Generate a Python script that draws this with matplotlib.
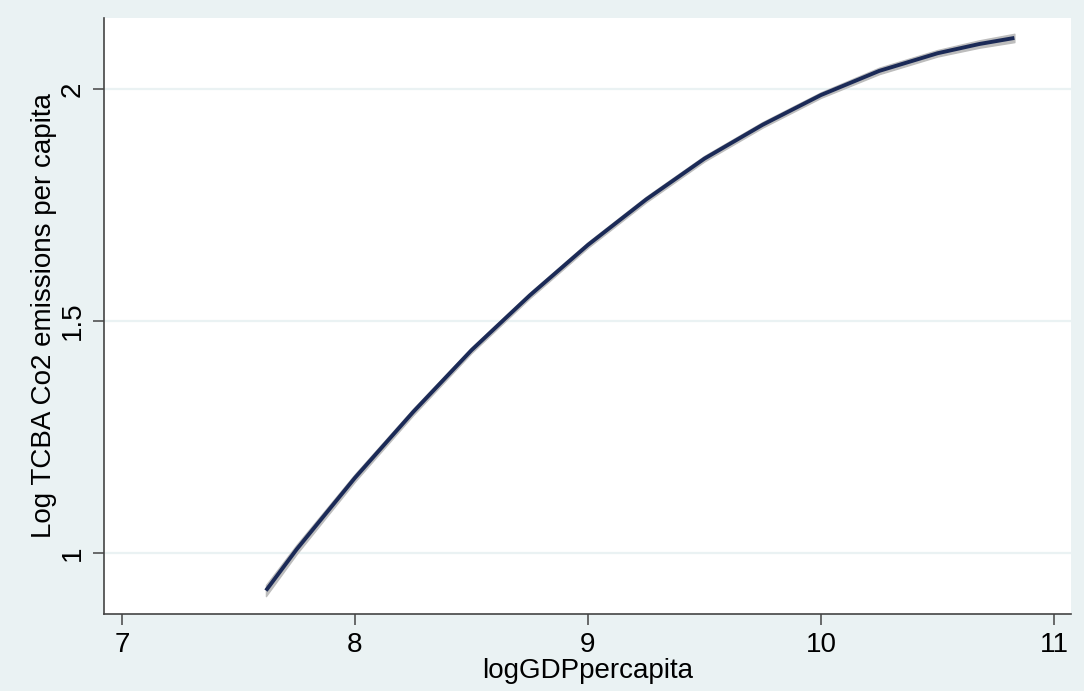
import matplotlib
matplotlib.use("Agg")
import matplotlib.pyplot as plt
import numpy as np

# Data (fitted curve with narrow confidence band)
x_vals = [7.618, 7.75, 8.0, 8.25, 8.5, 8.75, 9.0, 9.25, 9.5, 9.75, 10.0, 10.25, 10.5, 10.68, 10.83]
y_vals = [0.919, 1.008, 1.162, 1.304, 1.437, 1.555, 1.664, 1.762, 1.850, 1.923, 1.987, 2.039, 2.077, 2.097, 2.110]
ci_half = [0.012, 0.010, 0.008, 0.007, 0.006, 0.006, 0.006, 0.006, 0.006, 0.006, 0.006, 0.007, 0.007, 0.008, 0.009]

x_ticks = [7, 8, 9, 10, 11]
y_ticks = [1, 1.5, 2]
y_tick_labels = ["1", "1.5", "2"]

BG = "#EAF2F3"
NAVY = "#1B2A57"

plt.rcParams['font.family'] = ['Liberation Sans', 'DejaVu Sans']

fig = plt.figure(figsize=(10.84, 6.91), dpi=100, facecolor=BG)
ax = fig.add_axes([104/1084, 1 - 614/691, (1071-104)/1084, (614-18)/691])
ax.set_facecolor("white")

xs = np.array(x_vals)
ys = np.array(y_vals)
ci = np.array(ci_half)

ax.fill_between(xs, ys - ci, ys + ci, color="#BDBDBD", lw=1.0, edgecolor="#BDBDBD", zorder=2)
ax.plot(xs, ys, color=NAVY, lw=2.8, zorder=3, solid_capstyle="butt", solid_joinstyle="round")

ax.set_xlim(6.923, 11.073)
ax.set_ylim(0.8685, 2.153)

ax.set_xticks(x_ticks)
ax.set_yticks(y_ticks)
ax.set_yticklabels(y_tick_labels, rotation=90, va="center")

ax.grid(axis="y", color=BG, lw=1.6)
ax.set_axisbelow(True)

for s in ["top", "right"]:
    ax.spines[s].set_visible(False)
for s in ["left", "bottom"]:
    ax.spines[s].set_color("#444444")
    ax.spines[s].set_linewidth(1.2)

ax.tick_params(axis="both", direction="out", length=8, width=1.1, color="#444444",
               labelsize=20, pad=5, labelcolor="black")

ax.set_xlabel("logGDPpercapita", fontsize=20, labelpad=0)
ax.set_ylabel("Log TCBA Co2 emissions per capita", fontsize=20, labelpad=2)

fig.savefig("out.png", dpi=100, facecolor=BG)
